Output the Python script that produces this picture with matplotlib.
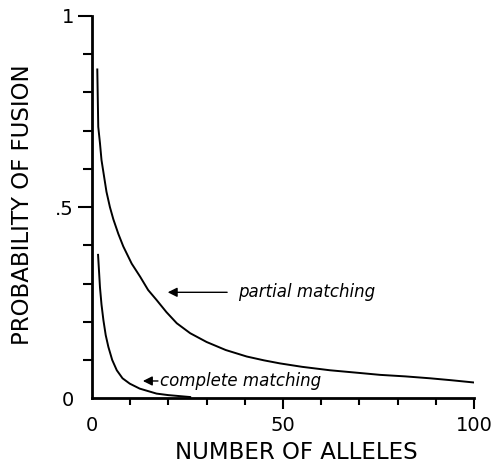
import matplotlib
matplotlib.use("Agg")
import matplotlib.pyplot as plt
from matplotlib.ticker import MultipleLocator

# values
partial_x = [1.4, 1.65, 2.1, 2.5, 3.8, 4.7, 5.6, 6.9, 8.2, 10.4, 12.6, 14.7, 16.9, 19.5, 22.2, 25.7,
             30, 35, 40.5, 45, 49.2, 55, 62.3, 70, 75.4, 82, 88.5, 94, 100]
partial_y = [0.86, 0.71, 0.667, 0.623, 0.54, 0.50, 0.468, 0.43, 0.397, 0.352, 0.318, 0.283, 0.257,
             0.225, 0.196, 0.17, 0.147, 0.126, 0.109, 0.099, 0.091, 0.082, 0.073, 0.066, 0.061,
             0.057, 0.052, 0.047, 0.041]

complete_x = [1.6, 2.1, 2.5, 3.0, 3.6, 4.3, 5.3, 6.5, 8.0, 9.9, 12.5, 16.9, 20.0, 25.7]
complete_y = [0.375, 0.29, 0.245, 0.204, 0.165, 0.134, 0.10, 0.073, 0.052, 0.038, 0.025, 0.012, 0.008, 0.003]

xticks = [0, 50, 100]
xtick_labels = ["0", "50", "100"]
yticks = [0, 0.5, 1]
ytick_labels = ["0", ".5", "1"]

fig = plt.figure(figsize=(4.97, 4.69), dpi=100)
ax = fig.add_axes([0.185, 0.151, 0.769, 0.815])

ax.plot(partial_x, partial_y, color="black", lw=1.4)
ax.plot(complete_x, complete_y, color="black", lw=1.4)

ax.set_xlim(0, 100)
ax.set_ylim(0, 1)
for s in ["top", "right"]:
    ax.spines[s].set_visible(False)
for s in ["left", "bottom"]:
    ax.spines[s].set_linewidth(2)

ax.set_xticks(xticks)
ax.set_xticklabels(xtick_labels, fontsize=14)
ax.set_yticks(yticks)
ax.set_yticklabels(ytick_labels, fontsize=14)
ax.xaxis.set_minor_locator(MultipleLocator(10))
ax.yaxis.set_minor_locator(MultipleLocator(0.1))
ax.tick_params(axis="x", which="major", length=8, width=1.5, pad=5)
ax.tick_params(axis="x", which="minor", length=5, width=1.5)
ax.tick_params(axis="y", which="major", length=10, width=1.5, pad=3)
ax.tick_params(axis="y", which="minor", length=6.5, width=1.5)
# no tick marks at the origin
ax.xaxis.get_major_ticks()[0].tick1line.set_visible(False)
ax.yaxis.get_major_ticks()[0].tick1line.set_visible(False)

ax.set_xlabel("NUMBER OF ALLELES", fontsize=16.5)
ax.xaxis.set_label_coords(0.534, -0.141)
ax.xaxis.label.set_va("center")
ax.set_ylabel("PROBABILITY OF FUSION", fontsize=16.5)
ax.yaxis.set_label_coords(-0.183, 0.507)
ax.yaxis.label.set_va("center")

arrow = dict(arrowstyle="-|>", color="black", lw=1.0, mutation_scale=14)
ax.annotate("", xy=(19.1, 0.277), xytext=(36.1, 0.277), arrowprops=arrow)
ax.text(38.2, 0.277, "partial matching", fontsize=12, style="italic", va="center", ha="left")
ax.annotate("", xy=(12.6, 0.045), xytext=(18.0, 0.045), arrowprops=arrow)
ax.text(17.8, 0.045, "complete matching", fontsize=12, style="italic", va="center", ha="left")

fig.savefig("out.png", dpi=100)
